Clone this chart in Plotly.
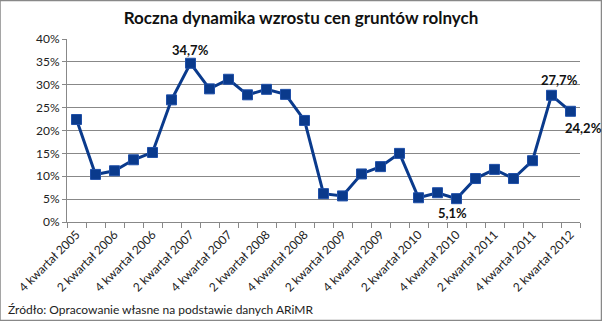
import plotly.graph_objects as go

categories = []
for y in range(2005, 2013):
    for q in range(1, 5):
        if (y == 2005 and q < 4) or (y == 2012 and q > 2):
            continue
        categories.append(f"{q} kwartał {y}")

values = [22.4, 10.4, 11.2, 13.6, 15.2, 26.7, 34.7, 29.1, 31.2, 27.8, 29.0, 27.9, 22.2,
          6.2, 5.7, 10.5, 12.1, 15.0, 5.3, 6.4, 5.1, 9.5, 11.5, 9.5, 13.4, 27.7, 24.2]

# index -> (label text, xshift, yshift)
labels = {6: ("34,7%", 0, 13), 20: ("5,1%", -4, -14),
          25: ("27,7%", 8, 15), 26: ("24,2%", 13, -17)}

x = list(range(len(categories)))

FONT = "Lato"
fig = go.Figure()
fig.add_trace(go.Scatter(
    x=x, y=values, mode="lines+markers",
    line=dict(color="#0A3A8C", width=3),
    marker=dict(symbol="square", size=10, color="#0A3A8C", line=dict(color="#1F4FA8", width=1)),
    cliponaxis=False, showlegend=False,
))

annotations = [dict(text="Źródło: Opracowanie własne na podstawie danych ARiMR",
                    xref="paper", yref="paper", x=-61/513, y=-87/183,
                    xanchor="left", yanchor="middle", showarrow=False,
                    font=dict(family=FONT, size=12, color="#222"))]
for i, (t, dx, dy) in labels.items():
    annotations.append(dict(text=f"<b>{t}</b>", x=x[i], y=values[i], xref="x", yref="y",
                            xshift=dx, yshift=dy, showarrow=False,
                            xanchor="center", yanchor="middle",
                            font=dict(family=FONT, size=13, color="#111")))

fig.update_layout(
    width=602, height=321,
    margin=dict(l=67, r=22, t=39, b=99),
    paper_bgcolor="white", plot_bgcolor="white",
    font=dict(family=FONT, size=12, color="#222"),
    title=dict(text="<b>Roczna dynamika wzrostu cen gruntów rolnych</b>",
               x=0.5, xanchor="center", y=0.945, yanchor="middle",
               font=dict(family=FONT, size=17, color="#111")),
    shapes=[dict(type="rect", xref="paper", yref="paper", x0=-67/513, x1=1+21.5/513,
                 y0=-98.5/183, y1=1+38.5/183, line=dict(color="#888", width=1.5))],
    annotations=annotations,
)

fig.update_xaxes(
    range=[-0.5, len(categories) - 0.5],
    tickvals=x[::2], ticktext=categories[::2], tickangle=-45,
    ticks="", showgrid=False, zeroline=False,
    showline=True, linecolor="#888", linewidth=1,
    tickfont=dict(family=FONT, size=12, color="#222"),
    minor=dict(tickvals=[i - 0.5 for i in range(len(categories) + 1)],
               ticks="outside", ticklen=5, tickcolor="#888", showgrid=False),
)
fig.update_yaxes(
    range=[0, 40], dtick=5, ticksuffix="%",
    showgrid=True, gridcolor="#888", gridwidth=1, zeroline=False,
    showline=True, linecolor="#888", linewidth=1,
    ticks="outside", ticklen=4, tickcolor="#888",
    tickfont=dict(family=FONT, size=12, color="#222"),
)

fig.write_html("out.html")
